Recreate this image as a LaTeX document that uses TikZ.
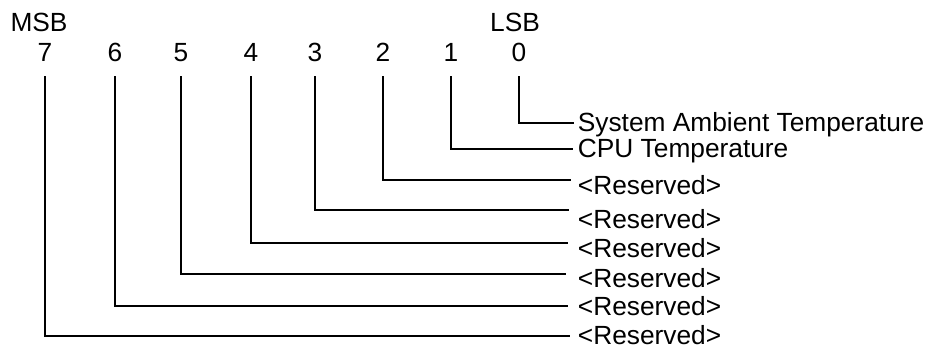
\documentclass[tikz,border=0pt]{standalone}
\usepackage{fontspec}
\setmainfont{Liberation Sans}
\usetikzlibrary{positioning}

\begin{document}
\begin{tikzpicture}[x=1pt,y=-1pt,line width=1.8pt,
    every node/.style={font=\fontsize{26.3}{30}\selectfont},
    bit/.style={inner sep=0pt,text height=19pt,text depth=0pt},
    field/.style={anchor=west,inner sep=0pt,text height=18.8pt,text depth=0pt}]
    \useasboundingbox (0,0) rectangle (932,349);

    \node (msb) at (39,22) {MSB};
    \node (lsb) at (515,22) {LSB};

    % bit numbers of the register
    \foreach \b/\x in {7/45,6/115,5/181,4/251,3/315,2/383,1/451,0/519}{%
      \node[bit] (b\b) at (\x,52) {\b};
    }
    % where each leader line stops
    \foreach \b/\x/\y in {0/574/123,1/573/149,2/571/180,3/569/210,4/568/243,5/566/274,6/568/306,7/570/336}{%
      \coordinate (e\b) at (\x,\y);
    }
    % field names
    \foreach \b/\y/\t in {0/122/System Ambient Temperature,1/148/CPU Temperature,
        2/185/<Reserved>,3/219/<Reserved>,4/248/<Reserved>,
        5/278/<Reserved>,6/306/<Reserved>,7/335/<Reserved>}{%
      \node[field] (f\b) at (577,\y) {\t};
    }
    % leader lines: down from the bit, then across to its name
    \foreach \b in {0,...,7}{%
      \draw[shorten <=14pt] (b\b.south) |- (e\b);
    }
\end{tikzpicture}
\end{document}
